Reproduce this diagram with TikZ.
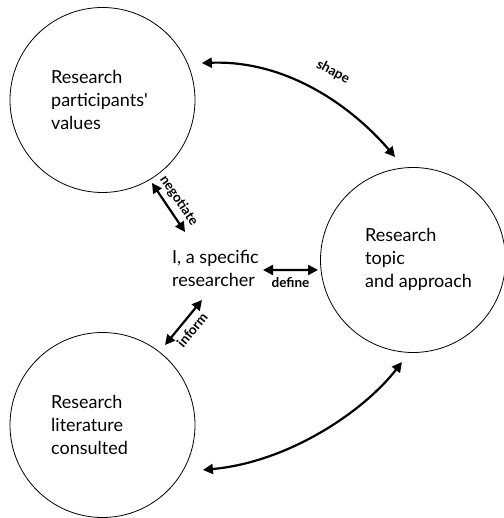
\documentclass[tikz,border=0pt]{standalone}
\usepackage{fontspec}
\setmainfont{Lato}
\usetikzlibrary{arrows.meta,calc}
\begin{document}
\begin{tikzpicture}[x=1pt,y=1pt,
  circ/.style={draw, circle, line width=0.8pt, minimum size=185pt, inner sep=0pt},
  txt/.style={align=left, anchor=west, inner sep=0pt, font=\fontsize{18}{23}\selectfont},
  lab/.style={font=\bfseries\fontsize{13.5}{15}\selectfont, inner sep=1pt},
  dbl/.style={line width=2.2pt, {Triangle[length=10pt,width=10pt]}-{Triangle[length=10pt,width=10pt]}}
]
\useasboundingbox (0,0) rectangle (503,518);
\node[circ] (tl) at (102.5,418) {};
\node[circ] (rt) at (413,258) {};
\node[circ] (bl) at (102.5,93) {};
\node[txt] (tlt) at (51,418) {Research\\participants\textquotesingle\\values};
\node[txt] (rtt) at (365,259) {Research\\topic\\and approach};
\node[txt] (blt) at (51,93) {Research\\literature\\consulted};
\node[txt] (me) at (172,250) {I, a specific\\researcher};
% shape
\draw[dbl] ($(tl.center)+(20.4:106)$) .. controls (290,458) and (355,408) .. ($(rt.center)+(99.9:104.6)$);
\node[lab, rotate=-28] (lshape) at (333,446) {shape};
% bottom
\draw[dbl] ($(bl.center)+(-24.1:110)$) .. controls (290,56) and (365,108) .. ($(rt.center)+(-96.2:102.6)$);
% negotiate
\draw[dbl] ($(tl.center)+(-59.2:96.6)$) -- node[lab, sloped, above=4pt] {negotiate} ($(me.west)+(13,36)$);
% inform
\draw[dbl] ($(me.west)+(30,-32)$) -- node[lab, sloped, below=4pt] {inform} ($(bl.center)+(52:101.5)$);
% define
\draw[dbl] ($(me.west)+(91,-2)$) -- node[lab, below=5pt] {define} ($(rt.center)+(186:95.5)$);
\end{tikzpicture}
\end{document}
